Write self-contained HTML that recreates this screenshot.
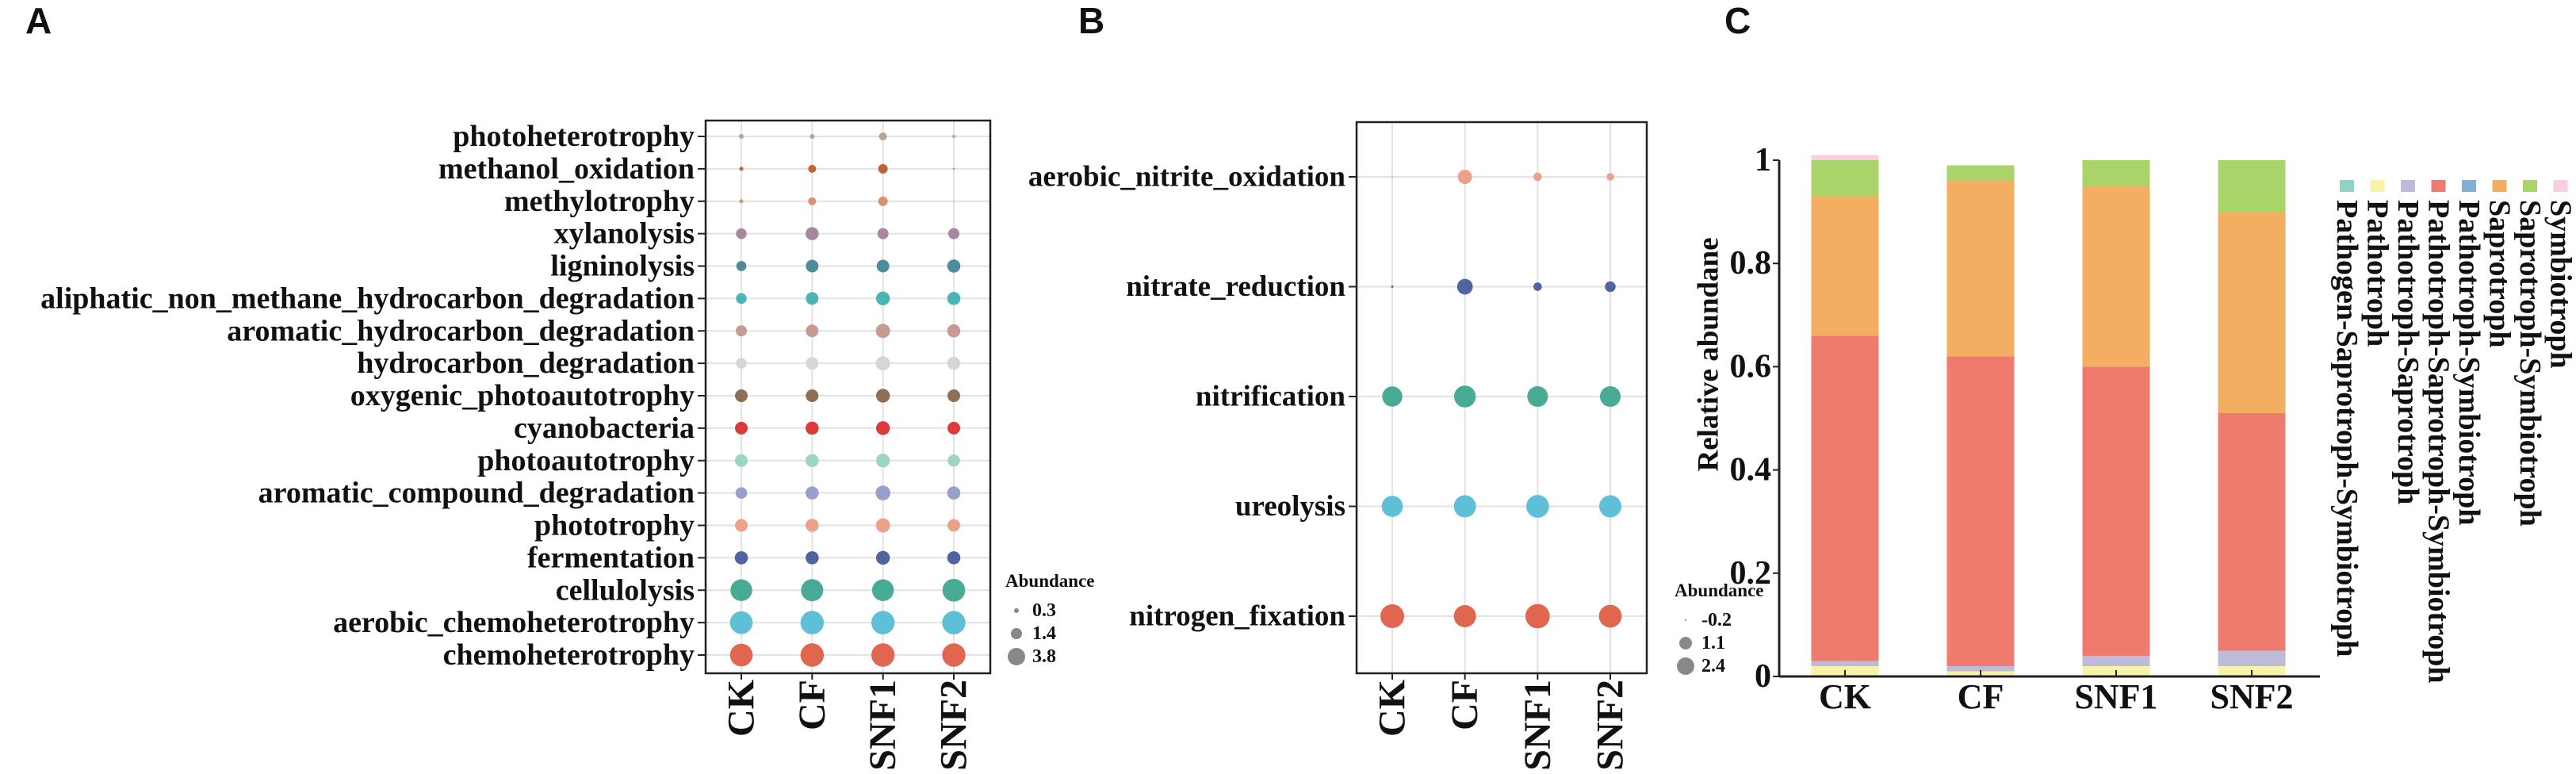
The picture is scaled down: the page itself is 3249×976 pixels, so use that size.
<!DOCTYPE html>
<html><head><meta charset="utf-8"><style>
html,body{margin:0;padding:0;background:#fff;}
svg{display:block;}
text{font-family:"Liberation Serif",serif;font-weight:bold;fill:#111;}
.sans{font-family:"Liberation Sans",sans-serif;}
</style></head><body>
<svg id="fig" width="3249" height="976" viewBox="0 0 3249 976" xmlns="http://www.w3.org/2000/svg">
<text class="sans" x="32" y="42" font-size="46">A</text>
<text class="sans" x="1360" y="42" font-size="46">B</text>
<text class="sans" x="2175" y="42" font-size="46">C</text>
</svg>
<script>
const groups = ["CK","CF","SNF1","SNF2"];
// Panel A
const aFunctions = ["photoheterotrophy","methanol_oxidation","methylotrophy","xylanolysis","ligninolysis","aliphatic_non_methane_hydrocarbon_degradation","aromatic_hydrocarbon_degradation","hydrocarbon_degradation","oxygenic_photoautotrophy","cyanobacteria","photoautotrophy","aromatic_compound_degradation","phototrophy","fermentation","cellulolysis","aerobic_chemoheterotrophy","chemoheterotrophy"];
const aColors = ["#b5a598","#c0633a","#d9936a","#a888a0","#4e8c9c","#4bb5b5","#c79a92","#d6d6d6","#8e6f55","#dd3b3b","#9dd5c5","#97a0c8","#eda08a","#4f64a0","#47ab96","#5ebfd6","#e06650"];
const aCK   = [0.17,0.12,0.12,0.87,0.77,0.87,0.95,0.87,1.23,1.23,1.23,1.03,1.23,1.33,3.62,3.94,3.94];
const aCF   = [0.17,0.48,0.48,1.33,1.23,1.23,1.23,1.23,1.23,1.33,1.33,1.33,1.33,1.33,3.78,4.17,4.17];
const aSNF1 = [0.48,0.69,0.69,0.95,1.23,1.46,1.56,1.56,1.46,1.46,1.46,1.67,1.56,1.46,3.62,4.17,4.17];
const aSNF2 = [0.08,0.02,0.01,0.95,1.33,1.33,1.33,1.33,1.23,1.23,1.14,1.33,1.23,1.33,3.94,4.17,4.17];
const aLegend = [0.3,1.4,3.8];
// Panel B
const bFunctions = ["aerobic_nitrite_oxidation","nitrate_reduction","nitrification","ureolysis","nitrogen_fixation"];
const bColors = ["#eda08a","#4f64a0","#47ab96","#5ebfd6","#e06650"];
const bCK   = [-0.2,-0.1,2.05,2.17,2.50];
const bCF   = [1.34,1.51,2.25,2.30,2.30];
const bSNF1 = [0.63,0.63,2.11,2.37,2.56];
const bSNF2 = [0.51,0.90,2.11,2.30,2.37];
const bLegend = [-0.2,1.1,2.4];
// Panel C
const cGuilds = ["Pathogen-Saprotroph-Symbiotroph","Pathotroph","Pathotroph-Saprotroph","Pathotroph-Saprotroph-Symbiotroph","Pathotroph-Symbiotroph","Saprotroph","Saprotroph-Symbiotroph","Symbiotroph"];
const cColors = ["#8dd3c7","#f7f3a8","#bebada","#ef7b6e","#80b1d3","#f3ae62","#a9d46a","#fbcde3"];
const cCK   = [0,0.02,0.01,0.63,0,0.27,0.07,0.01];
const cCF   = [0,0.01,0.01,0.60,0,0.34,0.03,0];
const cSNF1 = [0,0.02,0.02,0.56,0,0.35,0.05,0];
const cSNF2 = [0,0.02,0.03,0.46,0,0.39,0.10,0];
const cTicks = [0,0.2,0.4,0.6,0.8,1];
const cTickLabels = ["0","0.2","0.4","0.6","0.8","1"];

const NS="http://www.w3.org/2000/svg";
const svg=document.getElementById('fig');
function mk(tag,attrs,parent){const e=document.createElementNS(NS,tag);for(const k in attrs)e.setAttribute(k,attrs[k]);(parent||svg).appendChild(e);return e;}

function dotPanel(o){
  const g=mk('g',{});
  
  
  const n=o.rows.length;
  const yOf=i=>o.y0+(o.y1-o.y0)*i/(n-1);
  const xOf=j=>o.x0+(o.x1-o.x0)*j/3;
  for(let i=0;i<n;i++){
    const l=mk('line',{x1:o.bx0,x2:o.bx1,y1:yOf(i),y2:yOf(i),stroke:'#e2e2e2','stroke-width':2},g);
    
    
  }
  for(let j=0;j<4;j++){
    const l=mk('line',{x1:xOf(j),x2:xOf(j),y1:o.by0,y2:o.by1,stroke:'#e2e2e2','stroke-width':2},g);
    
    
  }
  const series=o.series;
  for(let i=0;i<n;i++){
    for(let j=0;j<4;j++){
      const r=o.rScale(series[j][i]);
      if(r<=0)continue;
      const c=mk('circle',{cx:xOf(j),cy:yOf(i),r:r,fill:o.colors[i]},g);
      
      
    }
    const t=mk('line',{x1:o.bx0-10,x2:o.bx0,y1:yOf(i),y2:yOf(i),stroke:'#222','stroke-width':2},g);
    
    
    const tx=mk('text',{x:o.bx0-14,y:yOf(i),'text-anchor':'end','dominant-baseline':'central','font-size':o.fs},g);
    tx.textContent=o.rows[i];
    
    
  }
  const box=mk('rect',{x:o.bx0,y:o.by0,width:o.bx1-o.bx0,height:o.by1-o.by0,fill:'none',stroke:'#222','stroke-width':2.5},g);
  
  
  for(let j=0;j<4;j++){
    const t=mk('line',{x1:xOf(j),x2:xOf(j),y1:o.by1,y2:o.by1+8,stroke:'#222','stroke-width':2},g);
    
    
    const tx=mk('text',{x:0,y:0,'text-anchor':'end','dominant-baseline':'central','font-size':48,transform:'translate('+xOf(j)+','+(o.by1+8)+') rotate(-90)'},g);
    tx.textContent=groups[j];
    
    
  }
  const lg=mk('g',{},g);
  
  
  const lt=mk('text',{x:o.lx-14,y:o.ly,'font-size':23},lg);
  lt.textContent='Abundance';
  
  
  o.legend.forEach((v,k)=>{
    const yy=o.ly+30+k*29;
    const c=mk('circle',{cx:o.lx,cy:yy,r:o.legR[k],fill:'#888'},lg);
    
    
    const t=mk('text',{x:o.lx+20,y:yy,'dominant-baseline':'central','font-size':24},lg);
    t.textContent=String(v);
    
    
  });
}
dotPanel({name:'panel-a-dotplot',rows:aFunctions,colors:aColors,series:[aCK,aCF,aSNF1,aSNF2],
  x0:935,x1:1203,y0:172,y1:826,bx0:890,bx1:1249,by0:152,by1:849,fs:38,
  rScale:v=>7.2*Math.sqrt(Math.max(v,0)),legend:aLegend,legR:[3,7,11],lx:1282,ly:740});
dotPanel({name:'panel-b-dotplot',rows:bFunctions,colors:bColors,series:[bCK,bCF,bSNF1,bSNF2],
  x0:1756,x1:2031,y0:223,y1:777,bx0:1711,bx1:2077,by0:154,by1:849,fs:37,
  rScale:v=>Math.max(0.6,1+5.2*(v+0.2)),legend:bLegend,legR:[1,8,11],lx:2126,ly:752});

// Panel C
const gc=mk('g',{});


const cy0=853, cyTop=202;
const yC=v=>cy0-(cy0-cyTop)*v;
const xC=j=>2327+171*j;
const bw=85;
[cCK,cCF,cSNF1,cSNF2].forEach((s,j)=>{
  let acc=0;
  s.forEach((v,k)=>{
    if(v<=0)return;
    const r=mk('rect',{x:xC(j)-bw/2,y:yC(acc+v),width:bw,height:yC(acc)-yC(acc+v),fill:cColors[k]},gc);
    
    
    acc+=v;
  });
  const t=mk('line',{x1:xC(j),x2:xC(j),y1:cy0,y2:cy0-8,stroke:'#222','stroke-width':2},gc);
  
  
  const tx=mk('text',{x:xC(j),y:893,'text-anchor':'middle','font-size':44},gc);
  tx.textContent=groups[j];
  
  
});
const ax=mk('line',{x1:2244,x2:2926,y1:cy0,y2:cy0,stroke:'#222','stroke-width':3},gc);


const ay=mk('line',{x1:2244,x2:2244,y1:cyTop,y2:cy0,stroke:'#222','stroke-width':3},gc);


cTicks.forEach((v,k)=>{
  const t=mk('line',{x1:2236,x2:2244,y1:yC(v),y2:yC(v),stroke:'#222','stroke-width':2},gc);
  
  
  const tx=mk('text',{x:2234,y:yC(v),'text-anchor':'end','dominant-baseline':'central','font-size':42},gc);
  tx.textContent=cTickLabels[k];
  
  
});
const yt=mk('text',{x:0,y:0,'text-anchor':'middle','dominant-baseline':'central','font-size':37,transform:'translate(2155,447) rotate(-90)'},gc);
yt.textContent='Relative abundane';


cGuilds.forEach((name,k)=>{
  const lx=2960+38.5*k;
  const sq=mk('rect',{x:lx-9,y:227,width:18,height:15,fill:cColors[k]},gc);
  
  
  const tx=mk('text',{x:0,y:0,'dominant-baseline':'central','font-size':38,transform:'translate('+lx+',252) rotate(90)'},gc);
  tx.textContent=name;
  
  
});
</script>
</body></html>
